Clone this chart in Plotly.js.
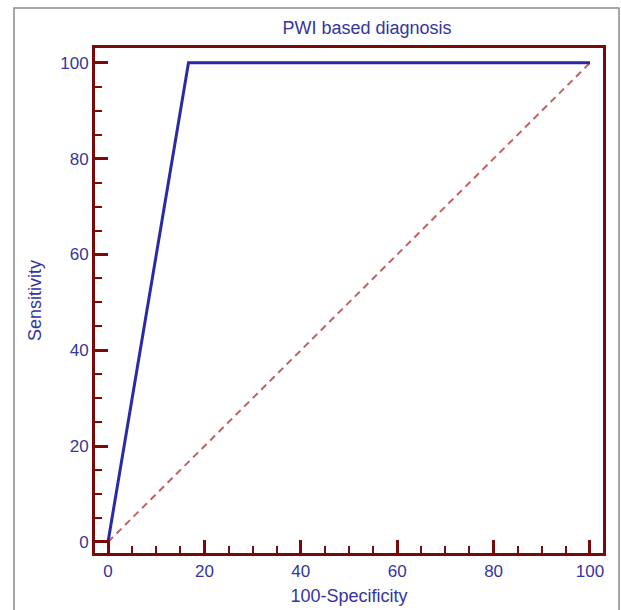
<!DOCTYPE html>
<html>
<head>
<meta charset="utf-8">
<script src="https://cdn.plot.ly/plotly-3.0.1.min.js"></script>
<style>
  html, body { margin: 0; padding: 0; background: #fff; }
  #chart { width: 621px; height: 610px; }
</style>
</head>
<body>
<div id="chart"></div>
<script>
// ROC curve data
const rocX = [0, 16.7, 100];      // 100-Specificity
const rocY = [0, 100, 100];       // Sensitivity
const diagX = [0, 100];
const diagY = [0, 100];
const tickVals = [0, 20, 40, 60, 80, 100];
const tickText = ['0', '20', '40', '60', '80', '100'];

const maroon = '#7a0a0a';
const textBlue = '#35359f';
const font = 'Liberation Sans, Arial, sans-serif';

const traces = [
  { x: diagX, y: diagY, type: 'scatter', mode: 'lines',
    line: { color: '#c06262', width: 2, dash: '7px,5px' }, hoverinfo: 'skip' },
  { x: rocX, y: rocY, type: 'scatter', mode: 'lines',
    line: { color: '#2a2aa8', width: 3 }, hoverinfo: 'skip' }
];

const axisCommon = {
  showgrid: false, zeroline: false,
  showline: true, linecolor: maroon, linewidth: 3, mirror: true,
  ticks: 'inside', ticklen: 13, tickwidth: 3, tickcolor: maroon,
  tickmode: 'array', tickvals: tickVals, ticktext: tickText,
  tickfont: { family: font, size: 17, color: textBlue },
  minor: { ticks: 'inside', ticklen: 7, tickwidth: 2, tickcolor: maroon, dtick: 5, showgrid: false }
};

const layout = {
  width: 621, height: 610,
  margin: { l: 95, r: 18, t: 48, b: 57 },
  paper_bgcolor: '#fff', plot_bgcolor: '#fff',
  showlegend: false,
  title: { text: 'PWI based diagnosis', font: { family: font, size: 18, color: textBlue },
           xref: 'container', x: 367 / 621, xanchor: 'center',
           yref: 'container', y: 1 - 28 / 610, yanchor: 'middle' },
  xaxis: Object.assign({}, axisCommon, {
    range: [-2.7, 102.7],
    ticklabelstandoff: 1,
    title: { text: '100-Specificity', font: { family: font, size: 18, color: textBlue }, standoff: 9 }
  }),
  yaxis: Object.assign({}, axisCommon, {
    range: [-2.3, 103.1],
    ticklabelstandoff: 0,
    title: { text: 'Sensitivity', font: { family: font, size: 18, color: textBlue }, standoff: 14 }
  }),
  shapes: [
    { type: 'rect', xref: 'paper', yref: 'paper',
      x0: (14 - 95) / 508, x1: (619 - 95) / 508,
      y0: -(615 - 553) / 505, y1: 1 + (48 - 8) / 505,
      line: { color: '#8a8a8a', width: 1.5 }, layer: 'below' }
  ]
};

Plotly.newPlot('chart', traces, layout, { staticPlot: true, displayModeBar: false });
</script>
</body>
</html>
